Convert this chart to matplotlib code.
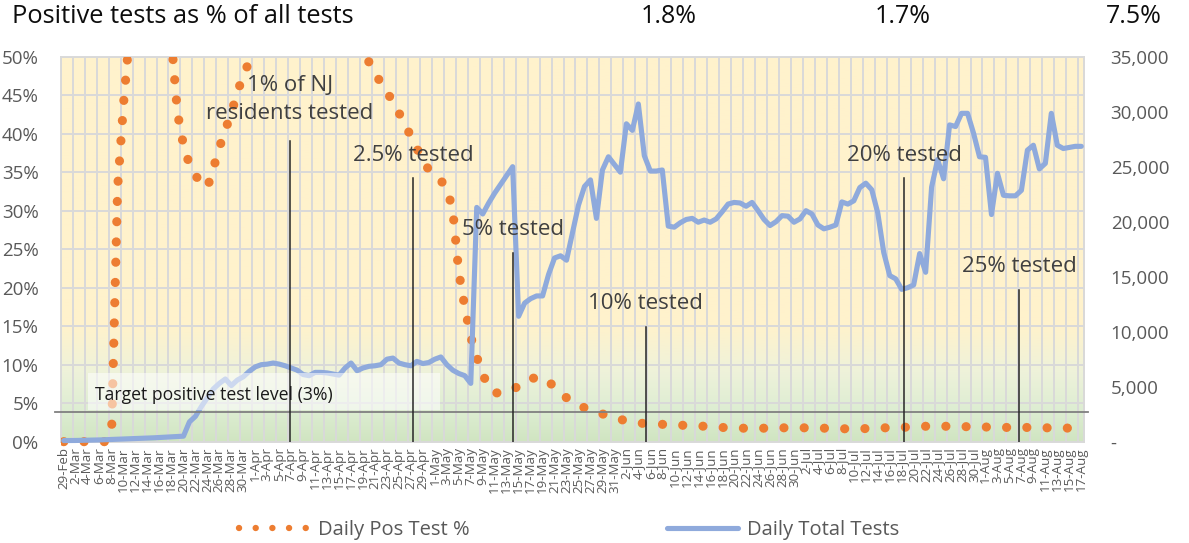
import matplotlib
matplotlib.use("Agg")
import matplotlib.pyplot as plt
from matplotlib.lines import Line2D
from matplotlib.patches import Rectangle
from matplotlib.colors import LinearSegmentedColormap
from matplotlib.ticker import FuncFormatter
import numpy as np
import pandas as pd

plt.rcParams["font.family"] = ["Open Sans", "DejaVu Sans"]

# categories: one per day, 29-Feb .. 17-Aug
dates = pd.date_range("2020-02-29", "2020-08-17", freq="D")
date_labels = [f"{d.day}-{d.strftime('%b')}" for d in dates]

# daily positive test % (values above 50% run off the chart)
pos_pct = [
    0, 0, 0, 0, 0, 0, 0, 0, 1.5, 33,                          # 29-Feb ..
    44, 53, 60, 68, 72, 70, 65, 60, 52, 42.7,
    38.5, 36, 34.5, 33.8, 33.0, 35.5, 38.2, 40.5, 42.7, 45.3,
    47.7, 49.3, 50.5, 53, 56, 58, 60, 62, 63, 62,
    60, 59, 58, 57, 56, 55, 54, 53, 52, 51,
    50.5, 49.3, 48.0, 46.5, 45.5, 44.0, 42.7, 41.3, 39.6, 38.1,
    36.5, 35.3, 34.6, 33.9, 33.0, 30.0, 22.0, 17.5, 13.6, 11.0,
    8.7, 7.2, 6.3, 6.4, 6.5, 6.7, 7.3, 7.9, 8.2, 8.3,
    8.4, 7.8, 7.1, 6.4, 5.7, 5.2, 4.8, 4.4, 4.1, 3.9,
    3.6, 3.4, 3.2, 2.9, 2.7, 2.55, 2.45, 2.35, 2.25, 2.25,
    2.25, 2.25, 2.2, 2.15, 2.1, 2.1, 2.05, 2.0, 1.95, 1.9,
    1.85, 1.8, 1.8, 1.75, 1.75, 1.75, 1.75, 1.75, 1.75, 1.75,
    1.8, 1.8, 1.8, 1.8, 1.8, 1.8, 1.8, 1.75, 1.75, 1.7,
    1.7, 1.65, 1.65, 1.7, 1.7, 1.75, 1.75, 1.8, 1.8, 1.85,
    1.85, 1.9, 1.9, 1.95, 2.0, 2.0, 2.0, 2.0, 2.0, 2.0,
    1.95, 1.95, 1.9, 1.9, 1.9, 1.9, 1.9, 1.85, 1.85, 1.8,
    1.8, 1.85, 1.85, 1.85, 1.8, 1.8, 1.8, 1.8, 1.75, 1.75,
    1.75,
]

# daily total tests
total_tests = [
    100, 100, 110, 120, 130, 150, 160, 180, 200, 220,
    240, 260, 280, 300, 320, 350, 380, 400, 430, 460,
    500, 1800, 2300, 3200, 4000, 4800, 5300, 5700, 5100, 5600,
    5900, 6400, 6800, 7000, 7050, 7150, 7050, 6900, 6700, 6500,
    6100, 6000, 6300, 6300, 6250, 6150, 6050, 6700, 7150, 6450,
    6700, 6850, 6900, 7000, 7500, 7600, 7150, 7000, 6900, 7300,
    7100, 7200, 7500, 7700, 7000, 6500, 6200, 6000, 5300, 21300,
    20700, 21700, 22600, 23400, 24200, 25000, 11400, 12600, 13000, 13250,
    13250, 15200, 16700, 16900, 16500, 19000, 21500, 23200, 23800, 20300,
    24700, 25900, 25200, 24500, 28900, 28300, 30700, 26000, 24600, 24600,
    24700, 19600, 19500, 19900, 20200, 20300, 19950, 20150, 19950, 20250,
    20900, 21600, 21750, 21700, 21400, 21750, 21000, 20200, 19650, 20000,
    20550, 20500, 19950, 20250, 21000, 20700, 19700, 19350, 19500, 19700,
    21800, 21600, 21900, 23100, 23500, 22900, 20800, 17200, 15100, 14800,
    13850, 14000, 14250, 17100, 15400, 23150, 25650, 23900, 28800, 28650,
    29850, 29850, 28050, 25900, 25850, 20650, 24400, 22400, 22350, 22350,
    22850, 26500, 26950, 24800, 25300, 29850, 26950, 26650, 26750, 26850,
    26850,
]

# share-of-residents-tested milestones (day index, line top in %, label, label height in %)
milestone_days = [37.8, 58.4, 75.0, 97.2, 140.4, 159.6]
milestone_tops = [39.0, 34.2, 24.5, 14.9, 34.2, 19.7]
milestone_labels = ["1% of NJ\nresidents tested", "2.5% tested", "5% tested",
                    "10% tested", "20% tested", "25% tested"]
milestone_label_y = [44.4, 37.2, 27.5, 18.0, 37.2, 22.7]

target_level = 3.8
target_label = "Target positive test level (3%)"

headline_values = ["1.8%", "1.7%", "7.5%"]

ORANGE = "#ED7D31"
BLUE = "#8FAADC"
GRID = "#D9D9D9"
TICK = "#595959"

n = len(dates)
x = np.arange(n)

fig = plt.figure(figsize=(11.89, 5.43), dpi=100)
ax = fig.add_axes([0.0511, 0.1866, 0.8608, 0.709])
ax2 = ax.twinx()

# background gradient: green at bottom fading into pale yellow
grad = LinearSegmentedColormap.from_list(
    "bg", [(0.0, "#D0E5C1"), (0.08, "#DDEDD2"), (0.18, "#EEF2DA"),
           (0.30, "#FFF2CC"), (1.0, "#FFF2CC")])
ax.imshow(np.linspace(0, 1, 256).reshape(-1, 1), cmap=grad, origin="lower",
          extent=[-0.5, n - 0.5, 0, 50], aspect="auto", zorder=0)

ax.set_xlim(-0.5, n - 0.5)
ax.set_ylim(0, 50)
ax.set_yticks(np.arange(0, 51, 5))
ax.yaxis.set_major_formatter(FuncFormatter(lambda v, p: f"{v:.0f}%"))
ax.set_xticks(x[::2])
ax.set_xticklabels(date_labels[::2], rotation=90)
ax.set_xticks(np.arange(-0.5, n - 1, 2), minor=True)
ax.set_axisbelow(True)
ax.grid(axis="y", which="major", color=GRID, lw=1.4)
ax.grid(axis="x", which="minor", color=GRID, lw=1.4)
ax.tick_params(axis="y", length=0, labelsize=13.5, labelcolor=TICK, pad=16)
ax.tick_params(axis="x", which="both", length=0, labelsize=9.6, labelcolor=TICK, pad=4)
for s in ax.spines.values():
    s.set_color(GRID)
    s.set_linewidth(1.4)

line_pos, = ax.plot(x, pos_pct, color=ORANGE, lw=6.6, dashes=(0.01, 2.2),
                    dash_capstyle="round", zorder=3)
line_pos.set_clip_path(Rectangle((0, -0.05), 1, 1.05, transform=ax.transAxes))

ax2.set_ylim(0, 35000)
ax2.set_yticks(np.arange(0, 35001, 5000))
ax2.yaxis.set_major_formatter(FuncFormatter(lambda v, p: "-" if v == 0 else f"{v:,.0f}"))
ax2.tick_params(axis="y", length=0, labelsize=13.5, labelcolor=TICK, pad=19)
for s in ax2.spines.values():
    s.set_visible(False)
ax2.plot(x, total_tests, color=BLUE, lw=3.7, solid_joinstyle="round",
         solid_capstyle="round", clip_on=False, zorder=3)

# target band and level
ax2.add_patch(Rectangle((4.06, 4.1), 58.8, 4.8, transform=ax.transData,
                        facecolor="white", alpha=0.55, edgecolor="none", zorder=5))
ax2.plot([-0.006, 1.004], [target_level, target_level], color="#808080", lw=1.3,
         transform=ax.get_yaxis_transform(), clip_on=False, zorder=6)
ax2.text(5.24, 6.1, target_label, transform=ax.transData, fontsize=12.7,
         color="#1A1A1A", va="center", ha="left", zorder=7)

# milestone lines and labels
for d, top, lab, ly in zip(milestone_days, milestone_tops, milestone_labels, milestone_label_y):
    ax2.plot([d, d], [0, top], color="#262626", lw=1.1, transform=ax.transData, zorder=6)
    ax2.text(d, ly, lab, transform=ax.transData, fontsize=16, color="#404040",
             ha="center", va="center", linespacing=1.45, zorder=7)

# header
fig.text(0.0101, 0.9687, "Positive tests as % of all tests", fontsize=18.3,
         color="#0D0D0D", ha="left", va="center")
for hx, hv in zip([0.5627, 0.759, 0.9537], headline_values):
    fig.text(hx, 0.9687, hv, fontsize=18, color="#0D0D0D", ha="center", va="center")

# legend
handles = [
    Line2D([], [], color=ORANGE, lw=4.6, dashes=(0.01, 2.6), dash_capstyle="round"),
    Line2D([], [], color=BLUE, lw=3.7, solid_capstyle="round"),
]
fig.legend(handles, ["Daily Pos Test %", "Daily Total Tests"], loc="center",
           bbox_to_anchor=(0.4786, 0.024), ncol=2, frameon=False, fontsize=14.5,
           handlelength=3.48, handletextpad=0.45, columnspacing=9.8,
           labelcolor=TICK)

fig.savefig("out.png", dpi=100)
